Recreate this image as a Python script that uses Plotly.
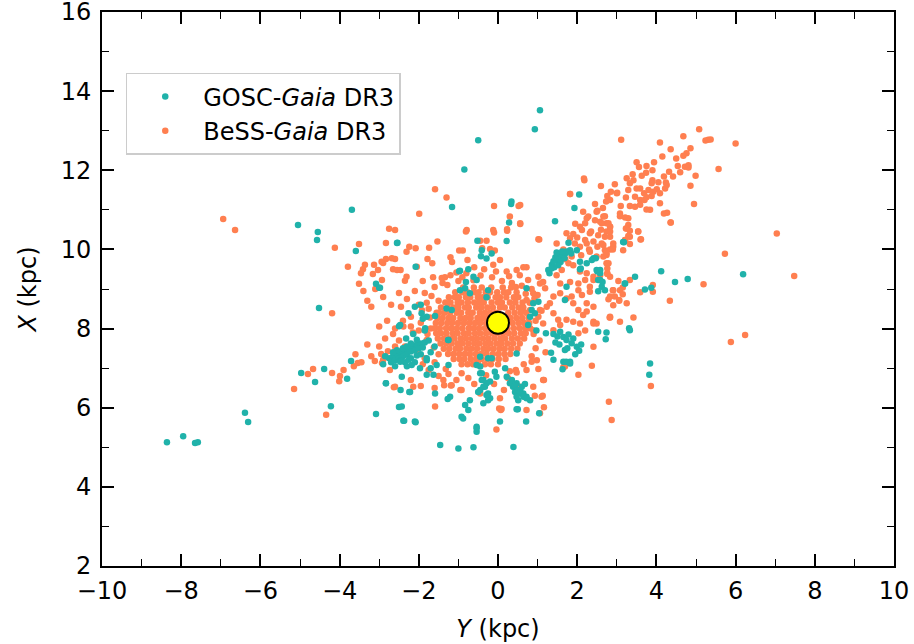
import plotly.graph_objects as go

# ---------------- data (Y = horizontal kpc, X = vertical kpc) ----------------
# BeSS-Gaia DR3 : scattered points (Y, X)
bess_outer = [
    (-6.94,10.77),(-6.64,10.49),(-4.12,10.04),(-3.51,10.14),(-3.79,9.56),(-3.51,9.13),(-3.46,9.40),
    (-3.36,9.61),(-3.41,9.5),(-3.16,9.38),(-3.13,9.61),(-3.03,9.48),(-2.93,9.23),(-2.9,9.66),(-2.83,9.76),
    (-2.75,10.52),(-2.6,10.49),(-2.83,10.16),(-2.68,9.78),(-2.6,9.76),(-2.65,9.5),(-2.55,9.48),(-4.19,8.39),
    (-2.65,7.86),(-2.78,7.43),(-2.95,7.36),(-3.11,7.18),(-2.93,7.13),(-3.64,7.05),(-3.54,7.13),(-4.67,6.98),
    (-4.8,6.85),(-4.19,6.88),(-3.99,6.8),(-4.01,6.67),(-5.15,6.47),(-2.63,6.52),(-4.34,5.82),
    (-1.59,11.52),(-1.3,11.31),(-1.99,10.9),(-0.1,11.1),(0.52,11.1),(0.3,10.83),(0.56,10.64),(0.23,10.47),
    (-0.81,10.45),(-0.1,10.43),(1.04,10.25),(1.82,11.4),(2.18,11.75),(-2.31,9.94),(-2.24,10.07),(-2.08,10.03),
    (-1.74,10.04),(-1.53,10.2),(-1.78,9.76),(-1.66,9.65),(-2.05,9.56),(-2.94,9.69),(-2.46,9.48),(-2.31,9.31),
    (-2.35,9.21),(-1.2,9.8),(-1.16,9.68),(-0.98,9.97),(-0.89,9.97),(-1.64,9.3),(-1.34,9.3),(-0.77,9.73),
    (-0.45,10.22),(-0.29,10.22),(-0.4,10.03),(-0.2,10.01),(-0.08,9.97),(0.05,9.73),(-0.12,9.61),(0.22,9.44),
    (0.47,9.48),(0.72,9.55),(0.76,9.23),(1.02,9.31),(1.14,9.18),(-0.79,10.49),(-0.12,10.49),(0.23,10.51),
    (0.56,11.12),(0.56,10.66),(0.64,9.55),(1.02,10.26),
]
bess_halo = [
    (-1.9,9.2),(-2.1,8.95),(-1.85,8.9),(-1.6,9.05),(-1.4,9.15),(-1.2,9.35),(-1.0,9.2),(-0.8,9.4),(-0.6,9.55),
    (-0.35,9.5),(-0.15,9.3),(0.1,9.2),(0.35,9.15),(0.55,9.35),(0.85,9.0),(1.0,8.85),(-2.3,8.75),(-2.0,8.6),
    (-1.8,8.65),(-2.2,8.3),(-1.95,8.15),(-2.4,8.2),(-2.15,7.9),(-2.35,7.55),(-2.05,7.45),(-1.85,7.25),
    (-1.75,6.95),(-1.5,6.8),(-1.25,6.85),(-1.05,6.7),(-0.75,6.75),(-0.6,6.6),(0.25,6.75),(0.45,6.95),
    (0.65,7.1),(0.85,7.3),(0.95,7.5),(1.05,7.7),(0.95,8.2),(1.1,8.45),(0.8,8.65),(1.2,7.4),(-2.6,8.0),
    (-2.5,7.7),(-2.85,7.75),(-3.0,7.55),(-3.3,7.6),(-3.2,7.3),(-3.6,7.35),(-3.45,7.15),(-3.9,6.95),
    (-2.2,6.7),(-1.95,6.55),(-1.6,6.5),(-0.95,6.45),(0.15,6.45),(-0.1,6.6),
    (-1.59,6.03),(-2.14,6.53),(-2.6,6.53),(-2.73,6.95),(-2.9,7.21),(-2.39,8.05),(-2.14,7.88),(-1.8,7.71),
    (-1.38,6.7),(-1.17,6.57),(-0.92,6.45),(-0.92,6.87),
    (-3.4,8.95),(-3.1,9.0),(-2.9,8.8),(-3.2,8.55),(-2.7,8.6),(-2.5,8.9),(-2.8,8.2),(-3.0,8.05),(-2.2,8.05),
    (-2.0,7.95),(-1.7,8.0),(-1.75,8.5),(-1.5,8.7),(-1.55,8.4),(-2.45,8.55),(-2.6,7.55),(-1.9,7.1),(-1.6,7.15),
    (-1.5,7.35),(-3.3,8.7),
    (-1.68,8.82),(-1.42,9.28),(-1.05,9.42),(-0.62,9.22),(-0.44,9.34),(-0.05,9.44),(0.28,9.32),(0.6,9.08),
    (0.92,8.76),(1.02,8.3),(0.9,7.86),(0.98,7.2),(0.72,6.95),(0.3,6.92),(-0.3,6.82),(-1.32,6.98),
    (-1.62,7.52),(-1.78,7.86),(-1.72,8.28),(-1.92,8.46),(-1.28,9.1),(-0.9,9.3),(0.45,9.05),(0.7,8.88),
]
bess_south = [
    (2.41,7.54),(2.03,6.83),(2.8,6.15),(2.87,5.69),(1.69,7.04),(1.14,6.7),(0.89,6.53),(1.1,6.28),(0.72,5.94),
    (-0.04,5.45),(0.07,5.94),(-0.45,6.36),(0.55,6.53),(3.86,6.55),(0.09,5.97),(1.06,5.86),(1.16,6.01),
    (1.13,6.3),(0.93,6.3),(1.16,6.7),(2.37,7.06),(1.65,7.02),(1.02,6.98),(0.85,7.16),(0.47,6.89),(0.05,6.24),
    (0.03,5.98),(-1.36,6.57),(-1.19,6.56),(6.24,7.84),(5.88,7.66),
]
bess_ne_arm = [
    (1.48,10.15),(1.73,10.41),(2.07,10.57),(2.24,10.79),(2.49,10.95),(2.83,11.25),(3.0,11.42),(3.21,10.24),
    (3.08,10.91),(3.29,10.62),(2.91,10.07),(2.74,9.65),(2.83,9.31),(3.08,8.97),(3.33,9.23),(2.95,8.81),
    (2.41,8.55),(2.24,8.43),(2.41,8.13),(2.83,8.3),(2.07,8.13),(1.73,8.22),(1.4,8.39),(1.23,8.55),(1.86,8.81),
    (2.03,8.97),(2.32,9.06),(2.41,9.23),(2.83,8.81),(3.25,8.64),
    (3.11,12.77),(4.09,12.7),(4.68,12.86),(5.08,13.04),(5.24,12.75),(5.31,12.77),(5.37,12.78),(6.0,12.68),
    (4.36,12.53),(4.86,12.56),(4.76,12.43),(4.68,12.37),(4.54,12.11),(4.72,12.09),(4.81,12.13),(4.81,12.07),
    (5.57,12.03),(4.99,11.86),(4.86,11.61),(4.95,11.15),(3.94,12.2),(3.56,12.08),(3.75,12.11),(3.63,11.86),
    (3.74,11.94),(3.9,11.75),(3.88,11.67),(4.19,11.84),(4.32,11.96),(4.42,11.84),(4.24,11.69),(3.33,11.67),
    (3.42,11.75),(3.5,11.54),(3.29,11.5),(3.59,11.54),(3.69,11.42),(3.8,11.5),(3.92,11.46),(4.01,11.52),
    (4.09,11.42),(4.22,11.54),(4.26,11.63),(3.23,11.31),(3.46,11.33),(3.59,11.25),(3.75,11.32),(3.88,11.35),
    (3.33,11.1),(3.46,11.08),(3.59,11.13),(3.75,11.01),(3.84,11.0),(4.09,11.17),(4.19,10.91),(4.27,10.93),
    (4.36,10.68),(2.73,11.21),(2.85,11.46),(3.01,11.43),(2.76,11.35),(2.17,11.79),(1.82,11.4),(2.51,10.98),
    (2.66,10.83),(2.7,10.84),(2.28,10.83),(2.45,10.74),(2.58,10.7),(2.74,10.66),(2.83,10.57),(3.08,10.84),
    (3.21,10.81),(3.29,10.79),(2.2,10.66),(2.12,10.49),(2.32,10.41),(2.53,10.36),(2.74,10.45),(2.83,10.32),
    (3.25,10.53),(3.33,10.32),(3.54,10.45),(3.6,10.25),(3.21,10.24),(1.9,10.39),(1.82,10.28),(1.94,10.15),
    (2.07,10.07),(2.24,10.15),(2.2,10.24),(2.41,10.2),(2.51,10.07),(2.62,10.15),(2.7,9.98),(2.74,9.86),
    (2.83,10.0),(2.91,10.15),(2.32,9.94),(2.49,9.82),(2.66,9.82),(2.79,9.65),(2.76,9.4),(2.58,9.35),
    (2.41,9.31),(2.24,9.4),(2.07,9.44),(1.65,10.0),(1.86,9.82),(1.78,9.65),(1.61,9.48),(1.48,9.35),
    (1.57,9.14),(1.82,9.18),(2.03,9.14),(2.2,9.23),(3.04,9.2),(3.15,9.04),(2.91,8.97),(3.06,8.7),(2.91,8.59),
    (2.83,8.28),(3.42,8.28),(3.59,8.92),(3.91,9.1),(3.91,8.93),(4.34,8.7),(5.19,9.12),(5.73,9.89),(7.04,10.4),
    (7.48,9.33),(1.06,9.14),(1.19,9.02),(0.89,8.89),(0.72,8.72),(0.6,8.47),(0.81,8.47),(1.06,8.47),
    (1.31,8.64),(1.4,8.81),(1.57,8.89),(1.73,8.76),(1.9,8.64),(2.03,8.47),(2.15,8.34),(1.9,8.17),(1.52,8.22),
    (1.14,8.13),(0.89,7.96),(1.4,7.96),(1.57,8.09),(2.03,7.88),(2.2,7.95),(2.41,8.17),(2.49,8.13),(2.24,8.64),
    (2.12,8.85),(2.32,8.93),(2.79,8.74),(3.08,8.17),(4.36,10.68),(3.23,10.53),(3.33,10.47),(3.54,10.45),
    (3.61,10.26),(3.33,10.14),(3.16,9.98),(3.29,10.34),(2.83,10.57),(2.7,10.32),(2.66,10.11),(2.74,9.9),
    (2.9,10.0),(2.83,10.45),(2.62,10.66),(2.79,10.66),(2.82,8.28),(2.9,8.97),(3.15,8.87),(3.06,8.72),
    (2.76,9.52),(2.76,9.38),(1.5,9.9),(1.7,9.75),(1.9,9.6),(2.1,9.85),(2.3,10.0),(2.0,10.3),(2.35,10.45),
    (2.6,10.5),(1.95,10.65),(2.15,10.95),(2.45,11.15),(2.65,11.05),(3.1,11.1),(3.4,11.9),(3.5,12.2),
    (3.9,12.0),(4.05,11.7),(4.5,12.3),(4.6,11.95),(3.7,11.25),(4.15,12.35),(3.25,11.8),(2.95,11.65),(2.6,11.6),
]
# dense core around the Sun: rows of (X, [Y values])
bess_core_rows = [
    (9.04, [-0.88,-0.61,-0.41,-0.17,0.12,0.33]),
    (8.92, [-1.08,-0.9,-0.77,-0.6,-0.49,-0.31,-0.2,-0.02,0.15,0.26,0.47]),
    (8.79, [-1.24,-1.09,-0.99,-0.81,-0.7,-0.51,-0.39,-0.26,-0.06,0.05,0.21,0.4,0.51]),
    (8.66, [-1.33,-1.2,-1.02,-0.92,-0.76,-0.6,-0.47,-0.36,-0.16,0.0,0.1,0.3,0.44,0.62]),
    (8.53, [-1.44,-1.27,-1.12,-1.0,-0.83,-0.74,-0.55,-0.42,-0.27,-0.13,0.05,0.17,0.36,0.52,0.64]),
    (8.4,  [-1.49,-1.35,-1.21,-1.04,-0.93,-0.75,-0.64,-0.46,-0.33,-0.2,-0.05,0.26,0.42,0.57,0.71]),
    (8.27, [-1.53,-1.4,-1.25,-1.13,-0.95,-0.82,-0.69,-0.52,-0.39,-0.26,0.32,0.47,0.61,0.77]),
    (8.14, [-1.57,-1.43,-1.28,-1.16,-1.01,-0.86,-0.72,-0.58,-0.45,-0.3,0.37,0.52,0.66,0.79]),
    (8.01, [-1.6,-1.47,-1.31,-1.18,-1.04,-0.9,-0.74,-0.62,-0.48,-0.33,-0.19,-0.05,0.11,0.24,0.4,0.55,0.69,0.81]),
    (7.88, [-1.56,-1.44,-1.3,-1.14,-1.02,-0.86,-0.74,-0.58,-0.45,-0.3,-0.15,-0.02,0.13,0.27,0.41,0.58,0.7]),
    (7.75, [-1.52,-1.36,-1.22,-1.1,-0.94,-0.81,-0.66,-0.53,-0.38,-0.24,-0.09,0.06,0.18,0.35,0.5,0.66]),
    (7.62, [-1.45,-1.31,-1.17,-1.02,-0.9,-0.75,-0.6,-0.47,-0.32,-0.19,-0.04,0.09,0.24,0.38,0.55]),
    (7.49, [-1.37,-1.23,-1.07,-0.96,-0.8,-0.67,-0.53,-0.37,-0.25,-0.11,0.04,0.17,0.33,0.49]),
    (7.36, [-1.26,-1.12,-0.98,-0.84,-0.71,-0.56,-0.43,-0.29,-0.13,0.01,0.16,0.31]),
    (7.23, [-1.12,-0.97,-0.85,-0.69,-0.55,-0.42,-0.27,-0.14,0.02,0.19]),
    (7.1,  [-0.92,-0.77,-0.63,-0.5,-0.33,-0.18,0.0]),
]

# GOSC-Gaia DR3 points (Y, X)
gosc_outer = [
    (-8.36,5.13),(-7.95,5.28),(-7.65,5.11),(-7.58,5.13),(-6.39,5.87),(-6.31,5.64),(-5.05,10.62),(-4.55,10.44),
    (-4.57,10.24),(-3.69,11.0),(-3.59,9.96),(-2.55,10.16),(-3.08,9.13),(-3.0,9.03),(-4.52,8.52),(-2.5,8.06),
    (-3.71,7.18),(-4.39,6.98),(-4.97,6.88),(-4.62,6.65),(-3.81,6.73),(-2.83,6.62),(-4.22,6.04),(-3.08,5.84),
    (-2.5,6.02),(-2.54,10.17),(-2.08,9.56),(-2.98,9.03),
    (1.06,13.52),(0.93,13.04),(-0.5,12.76),(-0.85,12.02),(-1.16,11.07),(0.34,11.21),(0.33,11.15),(0.28,10.68),
    (0.22,10.21),(1.44,10.71),(1.93,11.05),(2.05,11.39),
    (4.12,9.45),(3.46,9.31),(3.21,9.14),(4.47,9.18),(4.79,9.25),(6.19,9.37),(3.71,8.99),(3.87,9.03),(3.18,10.18),
    (3.84,7.12),(3.82,6.83),
]
gosc_north = [
    (-0.52,10.22),(-0.41,9.98),(-0.29,9.77),(-0.16,9.9),(-0.43,9.83),(-0.98,9.45),(-0.75,9.5),(-0.62,9.31),
    (-0.54,9.23),(-0.81,9.18),(-0.83,9.02),(-0.71,8.89),(-0.25,8.97),(-0.29,8.79),(-0.96,8.97),(-0.96,9.46),
]
gosc_east = [
    (0.72,9.02),(0.89,8.64),(1.02,8.68),(0.85,8.47),(0.93,8.39),(0.76,8.09),(0.97,7.95),(0.81,8.3),
    (1.21,7.88),(1.4,7.86),(1.57,7.92),(1.65,7.79),(1.73,7.71),(1.86,7.63),(1.99,7.54),(2.05,7.44),(1.69,7.46),
    (1.82,7.16),(1.65,7.16),(1.4,7.21),(1.34,7.39),(2.53,7.92),(2.74,7.9),(2.72,7.73),(3.31,8.01),(3.33,7.96),
    (1.63,6.97),(1.72,7.16),(1.82,7.12),(1.5,7.8),(1.78,7.85),(1.9,7.75),(1.55,7.6),(1.75,7.5),(1.95,7.35),
    (2.1,7.6),(1.45,7.65),(0.47,7.37),
]
gosc_ne_arm = [
    (1.27,9.48),(1.36,9.61),(1.48,9.73),(1.61,9.9),(1.69,9.94),(1.82,9.98),(1.99,9.98),(2.07,9.69),(2.24,9.65),
    (2.41,9.78),(2.49,9.48),(2.58,9.4),(2.53,9.23),(2.62,9.06),(2.53,8.94),(2.7,8.97),(3.2,9.14),(3.16,10.19),
    (1.73,9.06),(1.69,8.72),(2.07,9.5),(1.78,10.17),(2.37,9.73),(2.09,9.52),(2.51,9.44),(2.58,9.48),
    (2.64,9.18),(2.58,9.23),(2.47,9.78),(1.4,9.7),(1.45,9.8),(1.5,9.85),(1.55,9.75),(1.6,9.8),(1.65,9.85),
    (1.7,9.9),(1.75,9.95),(1.58,9.68),(1.52,9.6),(1.42,9.55),(1.62,9.95),(1.68,9.78),(1.48,9.92),(1.35,9.52),
    (1.3,9.4),(1.85,9.9),
]
gosc_sw_arm = [
    (-2.47,8.09),(-2.26,8.39),(-2.1,8.55),(-1.93,8.39),(-1.8,8.3),(-1.59,8.32),(-1.3,8.51),(-1.17,8.47),
    (-1.25,7.71),(-1.84,8.01),(-2.14,7.86),(-2.32,7.75),(-1.95,8.6),(-1.9,8.25),(-1.85,7.95),(-1.8,7.2),
    (-1.7,7.0),(-1.26,7.71),(-0.25,7.25),
    (-2.75,7.25),(-2.65,7.3),(-2.55,7.35),(-2.45,7.4),(-2.35,7.45),(-2.25,7.5),(-2.15,7.55),(-2.05,7.6),
    (-1.95,7.62),(-1.85,7.65),(-1.75,7.7),(-2.7,7.15),(-2.6,7.2),(-2.5,7.25),(-2.4,7.3),(-2.3,7.35),
    (-2.2,7.42),(-2.1,7.45),(-2.0,7.5),(-1.9,7.52),(-2.55,7.45),(-2.4,7.5),(-2.3,7.55),(-2.2,7.62),
    (-2.05,7.72),(-2.65,7.4),(-2.45,7.2),(-2.35,7.15),(-2.2,7.25),(-2.05,7.32),(-1.95,7.35),(-1.7,7.4),
    (-1.6,7.55),(-2.85,7.3),(-2.9,7.1),(-2.6,7.05),(-2.3,7.05),(-2.1,7.15),(-1.8,7.25),
    (-2.47,7.16),(-2.43,6.78),(-2.46,6.45),(-2.22,6.4),(-2.43,6.03),(-2.39,5.67),(-2.08,5.63),(-2.83,6.62),
    (-2.26,7.21),(-2.18,7.08),(-1.97,7.0),(-1.8,6.83),(-1.63,6.83),(-1.55,7.08),(-1.25,7.08),
    (-2.24,6.4),(-2.1,5.65),(-2.37,5.67),
]
gosc_south = [
    (-0.54,7.08),(-0.45,6.87),(-0.41,6.7),(-0.37,6.53),(-0.45,6.45),(-0.29,6.62),(-0.25,6.36),(-0.2,6.24),
    (-0.16,7.25),(-0.08,6.91),(-0.04,6.78),(0.18,7.0),(0.22,6.78),(0.35,6.7),(0.47,6.62),(0.56,6.45),
    (0.64,6.36),(0.72,6.28),(0.81,6.19),(0.51,6.19),(0.43,6.4),(0.38,6.53),(-0.71,6.19),(-0.75,5.94),
    (-0.92,5.77),(-0.88,5.73),(-0.54,5.52),(-0.54,5.39),(-1.46,5.06),(-1.0,4.97),(-0.62,5.0),(0.39,5.01),
    (0.71,5.65),(1.04,5.86),(0.5,5.96),(-1.21,6.28),(-1.59,6.36),(-0.45,7.29),
    (0.3,6.62),(0.43,6.57),(0.51,6.45),(0.56,6.36),(0.64,6.28),(0.72,6.24),(0.47,6.28),(0.6,6.53),(0.68,6.6),
    (-0.45,7.04),(-0.41,6.87),(-0.37,6.7),(-0.33,6.53),(-0.5,6.4),(-0.29,6.32),(-0.25,6.19),(-0.2,6.66),
    (-0.37,6.11),(-0.83,6.07),(-0.54,5.48),(0.05,5.65),(-1.27,6.22),(0.47,5.96),
]

sun_Y = [0.0]
sun_X = [8.15]

x_ticks = [-10, -8, -6, -4, -2, 0, 2, 4, 6, 8, 10]
y_ticks = [2, 4, 6, 8, 10, 12, 14, 16]

TEAL = "#20b2aa"
CORAL = "#ff7f50"

# ---------------- assemble ----------------
bess_pts = bess_outer + bess_halo + bess_south + bess_ne_arm
for xr, ys in bess_core_rows:
    bess_pts += [(yy, xr) for yy in ys]
gosc_pts = gosc_outer + gosc_north + gosc_east + gosc_ne_arm + gosc_sw_arm + gosc_south

bess_Y = [p[0] for p in bess_pts]
bess_X = [p[1] for p in bess_pts]
gosc_Y = [p[0] for p in gosc_pts]
gosc_X = [p[1] for p in gosc_pts]

FONT = "DejaVu Sans"
FS = 24
fig = go.Figure()
fig.add_trace(go.Scatter(x=bess_Y, y=bess_X, mode="markers", name="BeSS-<i>Gaia</i> DR3",
                         marker=dict(color=CORAL, size=6.5), legendrank=2))
fig.add_trace(go.Scatter(x=gosc_Y, y=gosc_X, mode="markers", name="GOSC-<i>Gaia</i> DR3",
                         marker=dict(color=TEAL, size=6.5), legendrank=1))
fig.add_trace(go.Scatter(x=sun_Y, y=sun_X, mode="markers", showlegend=False,
                         marker=dict(color="#ffff00", size=22, line=dict(color="black", width=2))))

axis_common = dict(
    showgrid=False, zeroline=False, showline=True, linecolor="black", linewidth=2,
    mirror="allticks", ticks="inside", ticklen=12, tickwidth=1.5, tickcolor="black",
    tickfont=dict(family=FONT, size=FS, color="black"), automargin=False,
    ticklabeloverflow="allow",
    minor=dict(ticks="inside", ticklen=7, tickwidth=1.2, tickcolor="black", dtick=1),
)
fig.update_xaxes(range=[-10, 10], tickvals=x_ticks, ticktext=[str(v).replace("-", "\u2212") for v in x_ticks],
                 title=dict(text="<i>Y</i> (kpc)", font=dict(family=FONT, size=FS, color="black"), standoff=16),
                 ticklabelstandoff=2, **axis_common)
fig.update_yaxes(range=[2, 16], tickvals=y_ticks, ticktext=[str(v) for v in y_ticks],
                 title=dict(text="<i>X</i> (kpc)", font=dict(family=FONT, size=FS, color="black"), standoff=17),
                 ticklabelstandoff=4, **axis_common)
fig.update_layout(
    width=914, height=644,
    margin=dict(l=102, r=20, t=12, b=78),
    plot_bgcolor="white", paper_bgcolor="white",
    font=dict(family=FONT, color="black"),
    legend=dict(x=0.03, y=0.89, xanchor="left", yanchor="top",
                bgcolor="white", bordercolor="#cccccc", borderwidth=1.5,
                font=dict(family=FONT, size=FS, color="black"), itemwidth=66,
                tracegroupgap=0),
)
# remove the browser's default 8 px body margin so the figure fills the window exactly
fig.write_html("out.html", config={"displayModeBar": False},
               post_script="document.body.style.margin='0px';document.body.style.overflow='hidden';")
